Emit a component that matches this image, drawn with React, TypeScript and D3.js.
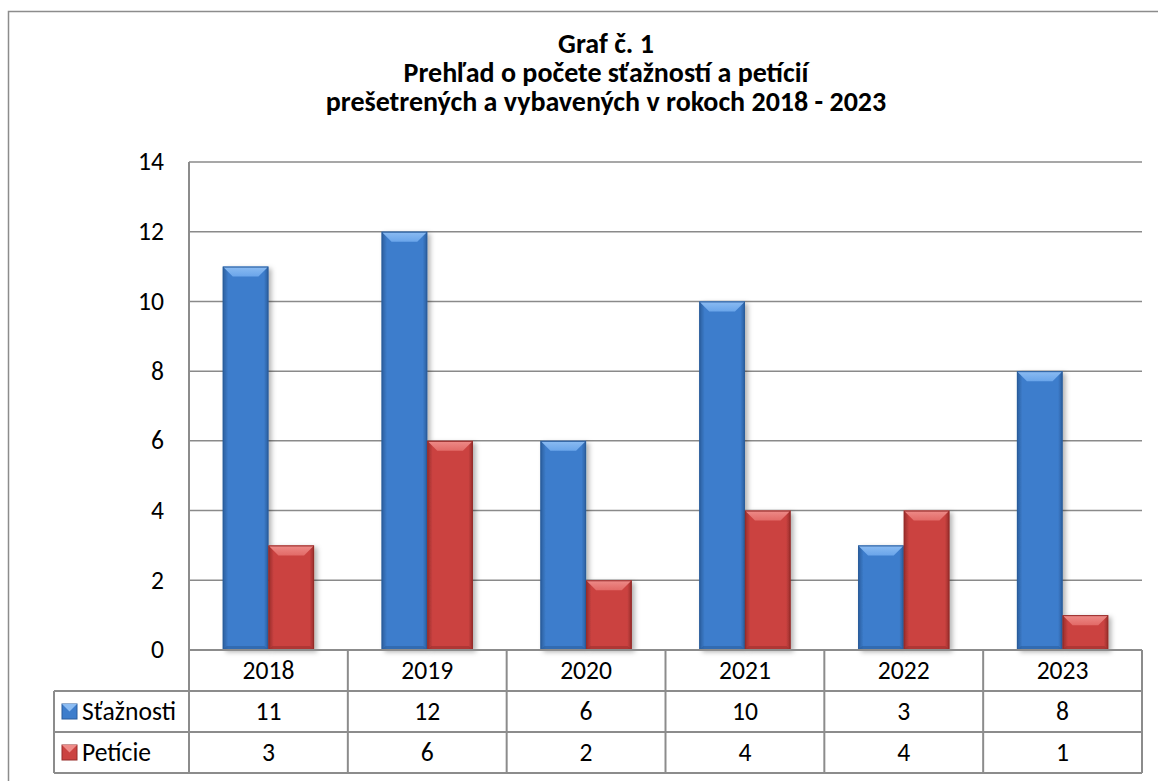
import { useEffect, useRef } from "react";
import * as d3 from "d3";

const years = ["2018", "2019", "2020", "2021", "2022", "2023"];
const seriesNames = ["Sťažnosti", "Petície"];
const staznosti = [11, 12, 6, 10, 3, 8];
const peticie = [3, 6, 2, 4, 4, 1];
const yTicks = [0, 2, 4, 6, 8, 10, 12, 14];
const titleLines = [
  "Graf č. 1",
  "Prehľad o počete sťažností a petícií",
  "prešetrených a vybavených v rokoch 2018 - 2023",
];

const W = 1158;
const H = 781;
const FONT = "Carlito, Calibri, Lato, 'Noto Sans', sans-serif";
const LABEL_SIZE = 25.6;

const palette = [
  { mid: "#3d7dcc", edge: "#2a5d9c", top: "#6aa5ea", topLight: "#8cbcf2", bottom: "#2c5f9e" },
  { mid: "#cb4341", edge: "#962c2a", top: "#e26a67", topLight: "#ee8c89", bottom: "#9c302e" },
];

export default function App() {
  const svgRef = useRef<SVGSVGElement>(null);

  useEffect(() => {
    const svg = d3.select(svgRef.current);
    svg.selectAll("*").remove();

    const plot = { left: 189, right: 1142, top: 162, zero: 650 };
    const rowH = 41;
    const legendLeft = 54;

    const defs = svg.append("defs");
    palette.forEach((p, i) => {
      const g = defs
        .append("linearGradient")
        .attr("id", `body${i}`)
        .attr("x1", "0").attr("x2", "1").attr("y1", "0").attr("y2", "0");
      g.append("stop").attr("offset", "0").attr("stop-color", p.edge);
      g.append("stop").attr("offset", "0.12").attr("stop-color", p.mid);
      g.append("stop").attr("offset", "0.6").attr("stop-color", p.mid);
      g.append("stop").attr("offset", "0.9").attr("stop-color", p.mid);
      g.append("stop").attr("offset", "1").attr("stop-color", p.edge);
      const t = defs
        .append("linearGradient")
        .attr("id", `top${i}`)
        .attr("x1", "0").attr("x2", "0").attr("y1", "0").attr("y2", "1");
      t.append("stop").attr("offset", "0").attr("stop-color", p.topLight);
      t.append("stop").attr("offset", "1").attr("stop-color", p.top);
    });
    const f = defs
      .append("filter")
      .attr("id", "shadow")
      .attr("x", "-20%").attr("y", "-10%").attr("width", "150%").attr("height", "130%");
    f.append("feDropShadow")
      .attr("dx", 3).attr("dy", 2).attr("stdDeviation", 2.5)
      .attr("flood-color", "#000").attr("flood-opacity", 0.3);

    // outer chart frame (only left and top edges fall inside the picture)
    svg.append("path")
      .attr("d", `M8.5,${H} V11.5 H${W}`)
      .attr("fill", "none").attr("stroke", "#8c8c8c").attr("stroke-width", 1.5);

    // title
    const title = svg.append("text")
      .attr("text-anchor", "middle")
      .attr("font-family", FONT)
      .attr("font-weight", "bold")
      .attr("font-size", 28)
      .attr("fill", "#000");
    titleLines.forEach((line, i) => {
      title.append("tspan").attr("x", 606).attr("y", 53 + i * 29).text(line);
    });

    const y = d3.scaleLinear().domain([0, 14]).range([plot.zero, plot.top]);
    const x = d3.scaleBand<string>().domain(years).range([plot.left, plot.right]).paddingInner(0);
    const groupW = x.bandwidth() * 0.575;
    const xs = d3.scaleBand<number>().domain([0, 1]).range([-groupW / 2, groupW / 2]);

    // gridlines
    svg.append("g")
      .selectAll("line")
      .data(yTicks.filter((t) => t > 0))
      .join("line")
      .attr("x1", plot.left).attr("x2", plot.right)
      .attr("y1", (d) => y(d)).attr("y2", (d) => y(d))
      .attr("stroke", "#8a8a8a").attr("stroke-width", 1.5);

    // y tick labels
    svg.append("g")
      .selectAll("text")
      .data(yTicks)
      .join("text")
      .attr("x", 164)
      .attr("y", (d) => y(d))
      .attr("dy", "0.33em")
      .attr("text-anchor", "end")
      .attr("font-family", FONT)
      .attr("font-size", LABEL_SIZE)
      .attr("fill", "#000")
      .text((d) => d);

    // bars
    const values = [staznosti, peticie];
    const bars = svg.append("g");
    years.forEach((yr, ci) => {
      const cx = (x(yr) || 0) + x.bandwidth() / 2;
      values.forEach((vals, si) => {
        const v = vals[ci];
        const bx = cx + (xs(si) || 0);
        const bw = xs.bandwidth();
        const by = y(v);
        const bh = plot.zero - by;
        const bev = Math.min(10, bh / 2);
        const g = bars.append("g");
        g.append("rect")
          .attr("x", bx).attr("y", by).attr("width", bw).attr("height", bh)
          .attr("fill", `url(#body${si})`)
          .attr("filter", "url(#shadow)");
        // top bevel
        g.append("polygon")
          .attr("points", [[bx, by], [bx + bw, by], [bx + bw - bev, by + bev], [bx + bev, by + bev]].join(" "))
          .attr("fill", `url(#top${si})`);
        // bottom bevel
        g.append("polygon")
          .attr("points", [[bx, plot.zero], [bx + bw, plot.zero], [bx + bw - 4, plot.zero - 4], [bx + 4, plot.zero - 4]].join(" "))
          .attr("fill", palette[si].bottom).attr("opacity", 0.6);
        g.append("rect")
          .attr("x", bx + 0.5).attr("y", by + 0.5).attr("width", bw - 1).attr("height", bh - 1)
          .attr("fill", "none").attr("stroke", palette[si].edge).attr("stroke-width", 1);
      });
    });

    // data table
    const gridColor = "#8c8c8c";
    const table = svg.append("g").attr("stroke", gridColor).attr("stroke-width", 2).attr("fill", "none");
    const r0 = plot.zero;
    const r1 = r0 + rowH;
    const r2 = r1 + rowH;
    const r3 = r2 + rowH;
    table.append("line").attr("x1", plot.left).attr("x2", plot.right).attr("y1", r0).attr("y2", r0);
    table.append("line").attr("x1", legendLeft).attr("x2", plot.right).attr("y1", r1).attr("y2", r1);
    table.append("line").attr("x1", legendLeft).attr("x2", plot.right).attr("y1", r2).attr("y2", r2);
    table.append("line").attr("x1", legendLeft).attr("x2", plot.right).attr("y1", r3).attr("y2", r3);
    table.append("line").attr("x1", legendLeft).attr("x2", legendLeft).attr("y1", r1).attr("y2", r3);
    table.append("line").attr("x1", plot.left).attr("x2", plot.left).attr("y1", plot.top).attr("y2", r3);
    years.forEach((yr) => {
      const xr = (x(yr) || 0) + x.bandwidth();
      table.append("line").attr("x1", xr).attr("x2", xr).attr("y1", r0).attr("y2", r3);
    });

    const textG = svg.append("g")
      .attr("font-family", FONT).attr("font-size", LABEL_SIZE).attr("fill", "#000")
      .attr("text-anchor", "middle");
    years.forEach((yr, ci) => {
      const cx = (x(yr) || 0) + x.bandwidth() / 2;
      textG.append("text").attr("x", cx).attr("y", r0 + rowH / 2).attr("dy", "0.33em").text(yr);
      textG.append("text").attr("x", cx).attr("y", r1 + rowH / 2).attr("dy", "0.33em").text(staznosti[ci]);
      textG.append("text").attr("x", cx).attr("y", r2 + rowH / 2).attr("dy", "0.33em").text(peticie[ci]);
    });

    // legend keys
    seriesNames.forEach((name, si) => {
      const ry = (si === 0 ? r1 : r2) + rowH / 2;
      const kx = 62;
      const ks = 15;
      const ky = ry - ks / 2;
      svg.append("rect")
        .attr("x", kx).attr("y", ky).attr("width", ks).attr("height", ks)
        .attr("fill", palette[si].mid).attr("stroke", palette[si].edge).attr("stroke-width", 1);
      svg.append("polygon")
        .attr("points", [[kx, ky], [kx + ks, ky], [kx + ks / 2, ky + ks / 2]].join(" "))
        .attr("fill", palette[si].topLight);
      svg.append("text")
        .attr("x", 82).attr("y", ry).attr("dy", "0.33em")
        .attr("font-family", FONT).attr("font-size", LABEL_SIZE).attr("fill", "#000")
        .text(name);
    });
  }, []);

  return (
    <svg
      ref={svgRef}
      width={W}
      height={H}
      style={{ position: "absolute", left: 0, top: 0, background: "#fff" }}
    />
  );
}
